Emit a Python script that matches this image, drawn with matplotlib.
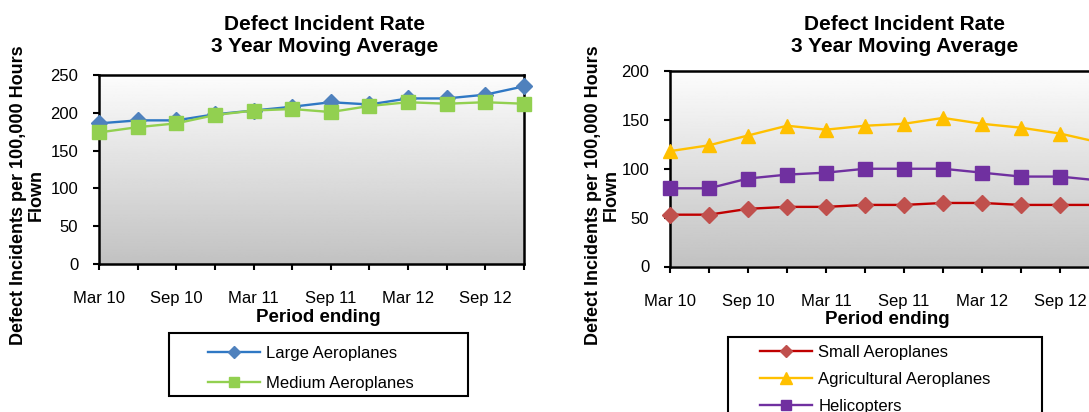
import matplotlib
matplotlib.use("Agg")
import matplotlib.pyplot as plt
import numpy as np
from matplotlib.patches import Rectangle

plt.rcParams["font.family"] = ["Liberation Sans", "DejaVu Sans"]

# Period ending (quarterly, 3 year moving average)
periods = ["Mar 10", "Jun 10", "Sep 10", "Dec 10", "Mar 11", "Jun 11",
           "Sep 11", "Dec 11", "Mar 12", "Jun 12", "Sep 12", "Dec 12"]

# Defect incidents per 100,000 hours flown
large = [186, 190, 190, 198, 203, 208, 214, 211, 219, 219, 224, 235]
medium = [174, 181, 186, 197, 203, 205, 201, 209, 214, 212, 214, 212]
small = [53, 53, 59, 61, 61, 63, 63, 65, 65, 63, 63, 63]
agricultural = [118, 124, 134, 144, 140, 144, 146, 152, 146, 142, 136, 127]
helicopters = [80, 80, 90, 94, 96, 100, 100, 100, 96, 92, 92, 88]

W, H = 1089, 412
TITLE = "Defect Incident Rate\n3 Year Moving Average"
YLABEL = "Defect Incidents per 100,000 Hours\nFlown"


def fx(x):
    return x / W


def fy(y):
    return 1 - y / H


def px_rect(x0, y0, x1, y1):
    """Pixel box (origin top-left) to a figure-fraction rect."""
    return [fx(x0), fy(y1), (x1 - x0) / W, (y1 - y0) / H]


def draw_panel(ax, series, ymax):
    # grey plot-area gradient, light at the top
    grad = np.linspace(0.76, 0.99, 256).reshape(-1, 1)
    ax.imshow(grad, cmap="gray", vmin=0, vmax=1, origin="lower",
              extent=[0, 1, 0, 1], transform=ax.transAxes,
              aspect="auto", zorder=0)

    x = np.arange(len(periods))
    for label, values, line_c, marker, mark_c, ms in series:
        ax.plot(x, values, color=line_c, lw=1.7, marker=marker, ms=ms,
                mfc=mark_c, mec=mark_c, label=label, clip_on=False, zorder=3)

    ax.set_xlim(0, len(periods) - 1)
    ax.set_ylim(0, ymax)
    ax.set_yticks(np.arange(0, ymax + 1, 50))
    ax.set_xticks(x)
    ax.set_xticklabels([p if i % 2 == 0 else "" for i, p in enumerate(periods)])
    ax.tick_params(axis="both", direction="out", length=4.5, width=1.5,
                   labelsize=12, color="black")
    ax.tick_params(axis="y", pad=10.5)
    ax.tick_params(axis="x", pad=15)
    for sp in ax.spines.values():
        sp.set_linewidth(1.8)
        sp.set_color("black")


fig = plt.figure(figsize=(W / 100, H / 100), dpi=100)

# left panel: large and medium aeroplanes
ax1 = fig.add_axes(px_rect(99, 75, 524, 264))
draw_panel(ax1, [
    ("Large Aeroplanes", large, "#2F78C4", "D", "#4F81BD", 8),
    ("Medium Aeroplanes", medium, "#92D050", "s", "#92D050", 9.5),
], 250)

# right panel: small aeroplanes, agricultural and helicopters
ax2 = fig.add_axes(px_rect(670, 71, 1099, 266.5))
draw_panel(ax2, [
    ("Small Aeroplanes", small, "#C00000", "D", "#C0504D", 8),
    ("Agricultural Aeroplanes", agricultural, "#FFC000", "^", "#FFC000", 10),
    ("Helicopters", helicopters, "#7030A0", "s", "#7030A0", 9.5),
], 200)

for cx, lx in [(325, 27), (905, 602)]:
    fig.text(fx(cx), fy(35), TITLE, ha="center", va="center",
             fontsize=15, fontweight="bold", linespacing=1.2)
    fig.text(fx(lx), fy(195), YLABEL, ha="center", va="center",
             rotation=90, fontsize=13, fontweight="bold", linespacing=1.05)

fig.text(fx(318), fy(317), "Period ending", ha="center", va="center",
         fontsize=13.5, fontweight="bold")
fig.text(fx(887), fy(319), "Period ending", ha="center", va="center",
         fontsize=13.5, fontweight="bold")

# legend boxes drawn as plain rectangles with frameless legends inside
fig.add_artist(Rectangle((fx(169), fy(396)), (468 - 169) / W, (396 - 333) / H,
                         transform=fig.transFigure, fill=False,
                         ec="black", lw=1.5))
fig.add_artist(Rectangle((fx(728), fy(440)), (1042 - 728) / W, (440 - 337) / H,
                         transform=fig.transFigure, fill=False,
                         ec="black", lw=1.5))

leg_kw = dict(loc="upper left", frameon=False, fontsize=12, borderpad=0,
              borderaxespad=0, handlelength=3.1, handletextpad=0.4,
              markerscale=0.8, bbox_transform=fig.transFigure)
ax1.legend(bbox_to_anchor=(fx(208), fy(346)), labelspacing=0.9, **leg_kw)
ax2.legend(bbox_to_anchor=(fx(760), fy(345)), labelspacing=0.72, **leg_kw)

fig.savefig("out.png", dpi=100, facecolor="white")
